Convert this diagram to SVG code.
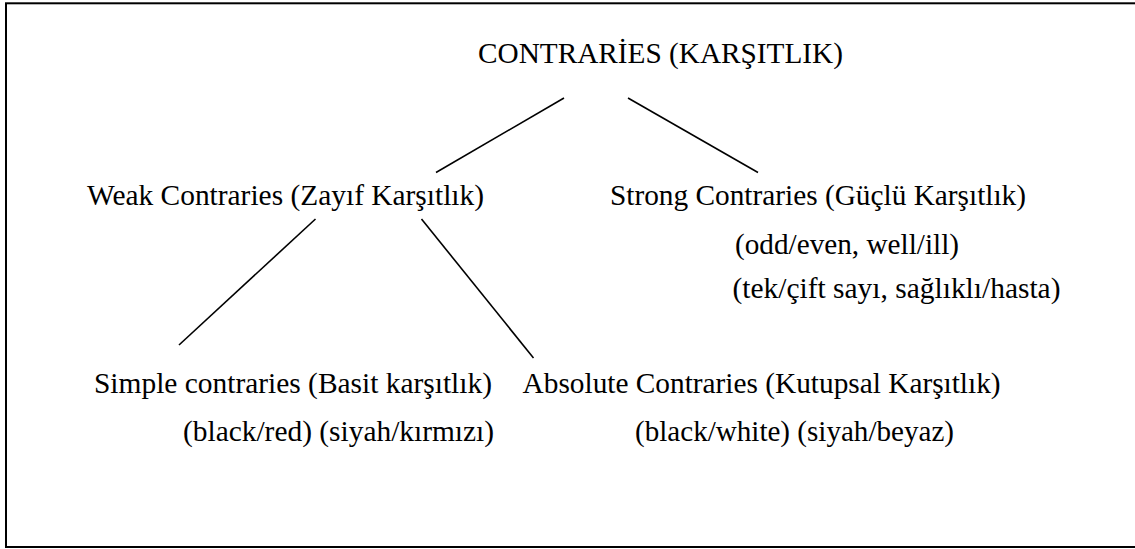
<svg xmlns="http://www.w3.org/2000/svg" width="1135" height="549" viewBox="0 0 1135 549">
<style>
.t{font-family:"Liberation Serif","Times New Roman",serif;font-size:29.3px;fill:#000}
.c line{stroke:#000;stroke-width:1.6;fill:none}
</style>
<rect x="0" y="0" width="1135" height="549" fill="#fff"/>
<rect x="6" y="3.3" width="1140" height="543.7" fill="none" stroke="#000" stroke-width="2"/>
<g id="connectors" class="c">
<line x1="564" y1="98" x2="436" y2="172.5"/>
<line x1="628" y1="98" x2="758" y2="172.5"/>
<line x1="315.5" y1="219" x2="179" y2="345"/>
<line x1="421.5" y1="219" x2="533.5" y2="358"/>
</g>
<g id="root"><text class="t" x="478" y="63" textLength="365" lengthAdjust="spacingAndGlyphs">CONTRARİES (KARŞITLIK)</text></g>
<g id="weak"><text class="t" x="87" y="205" textLength="397" lengthAdjust="spacingAndGlyphs">Weak Contraries (Zayıf Karşıtlık)</text></g>
<g id="strong">
<text class="t" x="610" y="205" textLength="416" lengthAdjust="spacingAndGlyphs">Strong Contraries (Güçlü Karşıtlık)</text>
<text class="t" x="735" y="254" textLength="224" lengthAdjust="spacingAndGlyphs">(odd/even, well/ill)</text>
<text class="t" x="732.5" y="298" textLength="328" lengthAdjust="spacingAndGlyphs">(tek/çift sayı, sağlıklı/hasta)</text>
</g>
<g id="simple">
<text class="t" x="94" y="393" textLength="398" lengthAdjust="spacingAndGlyphs">Simple contraries (Basit karşıtlık)</text>
<text class="t" x="183" y="441" textLength="311" lengthAdjust="spacingAndGlyphs">(black/red) (siyah/kırmızı)</text>
</g>
<g id="absolute">
<text class="t" x="522.6" y="393" textLength="478" lengthAdjust="spacingAndGlyphs">Absolute Contraries (Kutupsal Karşıtlık)</text>
<text class="t" x="635" y="441" textLength="319" lengthAdjust="spacingAndGlyphs">(black/white) (siyah/beyaz)</text>
</g>
</svg>
